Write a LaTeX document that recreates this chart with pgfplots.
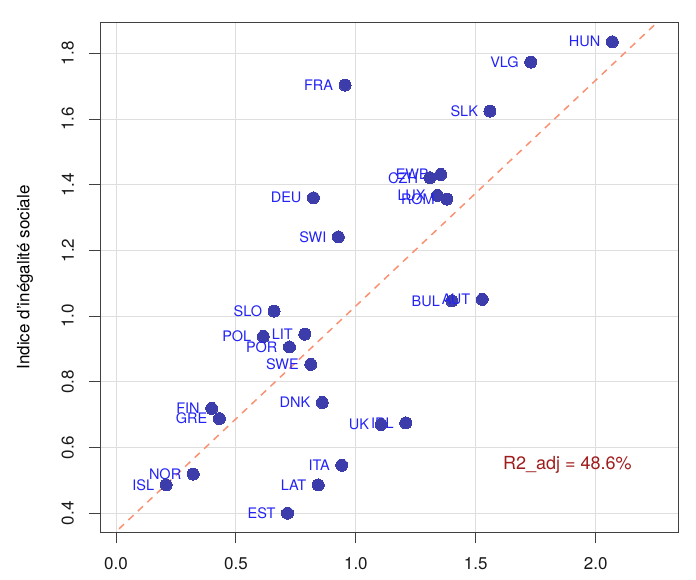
\documentclass[border=0pt]{standalone}
\usepackage{fontspec}
\setmainfont{TeX Gyre Heros}
\usepackage{pgfplots}
\pgfplotsset{compat=1.18}
\definecolor{dotblue}{RGB}{60,60,170}
\definecolor{labblue}{RGB}{35,35,245}
\definecolor{fitline}{RGB}{250,145,115}
\definecolor{r2red}{RGB}{160,28,28}
\pgfplotstableread{
x y label
2.069 1.835 HUN
1.729 1.773 VLG
0.955 1.703 FRA
1.559 1.624 SLK
1.354 1.431 EWB
1.309 1.421 CZH
1.340 1.367 LUX
1.379 1.356 ROM
0.823 1.360 DEU
0.927 1.241 SWI
1.400 1.046 BUL
1.527 1.051 AUT
1.208 0.675 IRL
1.105 0.670 UK
0.659 1.015 SLO
0.614 0.938 POL
0.787 0.945 LIT
0.723 0.906 POR
0.812 0.853 SWE
0.860 0.737 DNK
0.399 0.719 FIN
0.431 0.688 GRE
0.941 0.546 ITA
0.843 0.486 LAT
0.715 0.400 EST
0.322 0.519 NOR
0.209 0.486 ISL
}\datatable
\begin{document}
\begin{tikzpicture}
\begin{axis}[
  at={(0,0)}, anchor=south west,
  scale only axis, width=578.5bp, height=509.6bp,
  xmin=-0.0667, xmax=2.345, ymin=0.342, ymax=1.893,
  xtick={0,0.5,1,1.5,2},
  ytick={0.4,0.6,0.8,1.0,1.2,1.4,1.6,1.8},
  grid=major,
  major grid style={draw=black!13, line width=0.9bp},
  axis line style={draw=black!75, line width=0.9bp},
  tick style={draw=black!75, line width=0.9bp},
  tick align=outside,
  major tick length=11bp,
  xtick pos=bottom, ytick pos=left,
  /pgf/number format/assume math mode=true,
  /pgf/number format/.cd, fixed, fixed zerofill, precision=1, /pgfplots/.cd,
  ticklabel style={font=\fontsize{17bp}{20bp}\selectfont, text=black!90},
  xticklabel style={anchor=north, inner sep=0pt, yshift=-14bp},
  yticklabel style={xshift=-15bp, rotate=90, anchor=south, inner sep=0pt},
  ylabel={Indice d'inégalité sociale},
  every axis y label/.style={at={(axis description cs:0,0.5)}, xshift=-75bp, rotate=90, anchor=center, font=\fontsize{17bp}{20bp}\selectfont},
  clip=true,
]
\addplot[only marks, mark=*, mark size=6bp, mark options={fill=dotblue, draw=dotblue, line width=0pt},
  nodes near coords, point meta=explicit symbolic,
  every node near coord/.style={anchor=east, xshift=-12bp, inner sep=0pt, text=labblue, font=\fontsize{14.5bp}{16bp}\selectfont}]
  table[x=x, y=y, meta=label] {\datatable};
\addplot[fitline, line width=1.5bp, dash pattern=on 7bp off 6bp] coordinates {(-0.0667,0.298) (2.345,1.955)};
\node[text=r2red, font=\fontsize{18bp}{20bp}\selectfont, anchor=center] at (axis cs:1.882,0.547) {R2\_adj = 48.6\%};
\end{axis}
\pgfresetboundingbox
\path[use as bounding box] (-100bp,-47.7bp) rectangle (596bp,532.3bp);
\end{tikzpicture}
\end{document}
